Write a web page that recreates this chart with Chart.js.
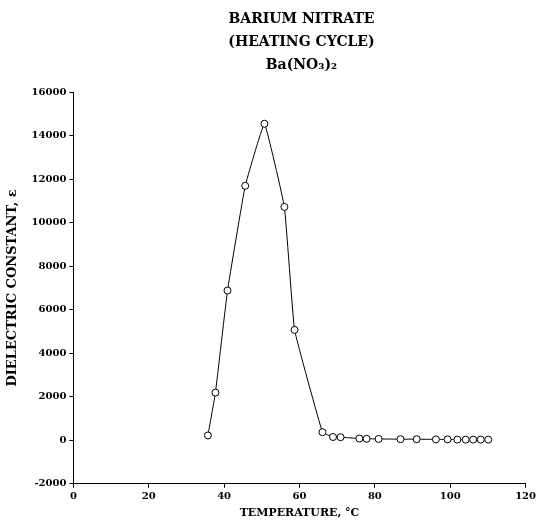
<!DOCTYPE html>
<html>
<head>
<meta charset="utf-8">
<script src="https://cdn.jsdelivr.net/npm/chart.js@4/dist/chart.umd.min.js"></script>
<style>
  html, body { margin: 0; padding: 0; background: #fff; }
  #wrap { width: 539px; height: 522px; }
</style>
</head>
<body>
<div id="wrap"><canvas id="myChart" width="539" height="522"></canvas></div>
<script>
// values
const temperature = [35.7, 37.7, 40.9, 45.6, 50.7, 56.0, 58.7, 66.1, 68.9, 70.9, 75.9, 77.8, 81.0, 86.8, 91.1, 96.2, 99.3, 101.9, 104.1, 106.1, 108.1, 110.1];
const dielectric = [220, 2190, 6880, 11690, 14540, 10720, 5070, 370, 150, 140, 80, 70, 60, 50, 50, 40, 40, 30, 30, 30, 30, 30];

const titleLines = ['BARIUM NITRATE', '(HEATING CYCLE)', 'Ba(NO\u2083)\u2082'];
const xTitle = 'TEMPERATURE, \u00B0C';
const yTitle = 'DIELECTRIC CONSTANT, \u03B5';

const serif = 'DejaVu Serif';

const points = temperature.map((t, i) => ({ x: t, y: dielectric[i] }));

// title centred over the plot area, like the original
const plotTitle = {
  id: 'plotTitle',
  afterDraw(chart) {
    const c = chart.ctx;
    const area = chart.chartArea;
    const mid = (area.left + area.right) / 2 + 2;
    c.save();
    c.fillStyle = '#000';
    c.textAlign = 'center';
    c.textBaseline = 'middle';
    c.font = 'bold 14px "' + serif + '"';
    titleLines.forEach((line, i) => c.fillText(line, mid, 19 + i * 23));
    c.restore();
  }
};

const ctx = document.getElementById('myChart').getContext('2d');
new Chart(ctx, {
  type: 'line',
  data: {
    datasets: [{
      data: points,
      borderColor: '#000',
      borderWidth: 1,
      tension: 0.08,
      pointRadius: 3.5,
      pointBackgroundColor: '#fff',
      pointBorderColor: '#000',
      pointBorderWidth: 1
    }]
  },
  options: {
    responsive: false,
    animation: false,
    layout: { padding: { left: 5, right: 12, top: 92, bottom: 2 } },
    plugins: {
      legend: { display: false },
      tooltip: { enabled: false },
      title: { display: false }
    },
    scales: {
      x: {
        type: 'linear',
        min: 0,
        max: 120,
        ticks: { stepSize: 20, color: '#000', font: { family: serif, size: 10, weight: 'bold' }, padding: 3, maxRotation: 0 },
        grid: { drawOnChartArea: false, drawTicks: true, tickLength: 4, color: '#000' },
        border: { color: '#000', width: 1 },
        title: { display: true, text: xTitle, color: '#000', font: { family: serif, size: 11, weight: 'bold' }, padding: { top: 1, bottom: 0 } }
      },
      y: {
        min: -2000,
        max: 16000,
        ticks: { stepSize: 2000, color: '#000', font: { family: serif, size: 10, weight: 'bold' }, padding: 3, callback: v => String(v) },
        grid: { drawOnChartArea: false, drawTicks: true, tickLength: 4, color: '#000' },
        border: { color: '#000', width: 1 },
        title: { display: true, text: yTitle, color: '#000', font: { family: serif, size: 13, weight: 'bold' }, padding: { top: 0, bottom: 8 } }
      }
    }
  },
  plugins: [plotTitle]
});
</script>
</body>
</html>
